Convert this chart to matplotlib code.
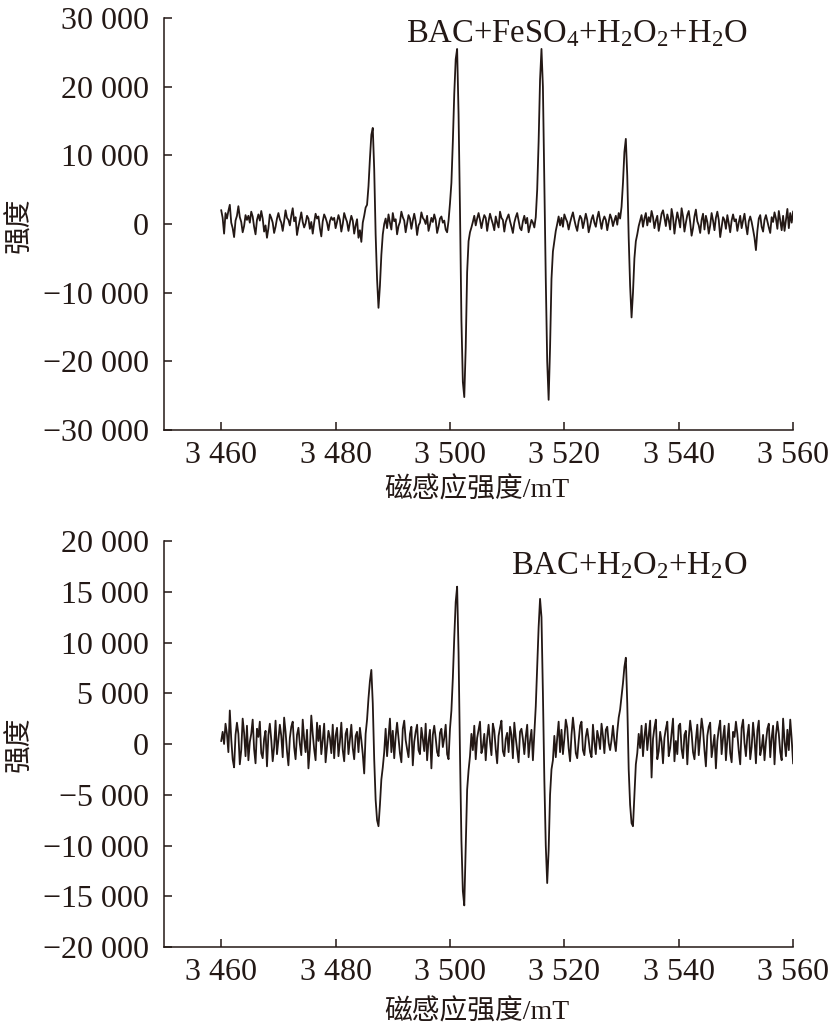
import numpy as np
import matplotlib
matplotlib.use('Agg')
import matplotlib.pyplot as plt
from matplotlib.ticker import FuncFormatter, MultipleLocator

# field sweep 3460-3560 mT, one reading every 0.25 mT
field = np.linspace(3460, 3560, 401)

# intensity, in thousands (BAC+FeSO4+H2O2+H2O)
top_k = [
    2.0, 0.9, -1.4, 1.6, 0.8, 1.9, 2.8, 0.2, -0.6, -1.9, 0.5, 1.2, 2.6, 1.0, 0.3, -1.2, -0.3, 1.3, 0.6, 1.2,
    0.2, 1.8, 1.1, -0.4, -1.5, 0.6, 1.4, 0.5, 1.9, 0.8, -1.1, -0.2, -2.0, -0.6, 1.4, 0.9, 0.2, -1.3, -0.4, 0.8,
    1.6, 0.7, 0.2, -1.0, 0.4, 2.0, 0.9, 0.6, -0.2, 1.2, 2.3, 0.4, 1.0, -1.6, -0.4, 0.6, 1.7, 0.3, -0.5, 0.1,
    1.2, 0.8, -0.7, 0.3, -1.4, 0.2, 1.5, 0.8, 1.1, -0.6, -1.8, 0.4, 1.4, 0.9, 0.2, -0.9, 0.4, 1.0, 0.6, 0.9,
    -0.6, 0.3, 1.3, 0.6, -1.1, 0.0, 1.6, 0.9, 0.3, -1.0, 0.2, 1.2, 0.5, -1.4, -0.2, 0.7, -2.0, -0.9, -2.6, 0.2,
    1.2, 2.4, 2.8, 5.5, 9.5, 13.0, 14.0, 8.0, -1.5, -8.0, -12.2, -9.0, -4.5, -1.5, 0.0, 0.8, -0.6, 1.4, 0.2, -0.8,
    1.6, 0.4, 0.7, -1.5, -0.3, 0.3, 1.8, 1.0, 0.5, -1.2, 0.1, 1.3, 0.8, -0.7, 0.5, 1.5, 0.4, -1.6, -0.2, 0.2,
    1.7, 0.9, 0.6, 0.0, 1.2, -1.0, -0.1, 0.9, 0.3, 1.4, 0.6, -1.3, -0.4, 0.8, 1.1, 0.2, 0.5, -0.8, -1.2, 0.5,
    3.0, 6.0, 12.0, 19.0, 24.0, 25.5, 16.0, 2.0, -14.0, -23.0, -25.2, -18.0, -7.0, -2.5, -1.2, -0.5, 0.3, 1.2, -0.2, 0.8,
    1.6, 0.6, -0.6, 0.5, 1.3, 0.9, -1.0, 0.4, 1.5, 0.7, 0.0, -0.9, 1.1, 0.2, -0.5, 1.8, 0.9, 0.6, -1.1, 0.3,
    0.9, 1.4, 0.4, -0.4, -1.3, 0.2, 1.0, 1.6, 0.5, -0.6, -0.9, 0.4, 1.2, 0.1, 0.9, -1.2, -0.3, 0.6, 0.2, -0.5,
    1.0, 5.0, 12.0, 21.0, 25.5, 20.0, 6.0, -8.0, -20.0, -25.6, -18.0, -8.0, -4.0, -2.5, -1.0, 0.0, 1.1, -0.2, 0.9, -0.4,
    1.4, 0.8, 0.3, -0.8, 0.2, 1.0, 1.7, 0.6, -0.3, -1.0, 0.4, 1.2, 0.8, -0.6, 0.4, 1.5, 0.6, -1.2, -0.3, 0.7,
    1.3, 0.2, -0.4, 0.9, 1.8, 0.5, -0.7, 0.5, 1.1, 0.6, -0.9, 0.3, 1.4, 0.8, -0.3, 0.5, 1.2, -0.1, 1.6, 0.8,
    2.5, 6.0, 10.5, 12.4, 7.0, -2.0, -9.0, -13.6, -10.0, -5.0, -2.5, -1.5, -0.3, 0.5, 1.3, -0.4, 0.8, 1.6, -0.2, 1.0,
    0.3, 1.9, 1.0, -0.6, 0.5, 1.2, -1.0, 0.2, 1.5, 2.0, 0.9, -0.3, 1.4, 0.6, -0.8, 2.2, 1.0, -1.4, 0.4, 1.7,
    0.7, -0.5, 2.3, 1.1, -1.1, 0.2, 1.3, 1.9, 0.3, -1.7, -0.6, 1.1, 2.1, 0.4, -0.2, -1.3, 0.6, 1.5, -0.8, 1.2,
    0.3, -1.4, -0.2, 1.6, 0.5, -0.9, 0.9, 1.8, 0.6, -1.9, -0.5, 1.0, 0.6, -0.7, 1.3, 0.1, -1.2, 0.5, 1.4, 0.4,
    0.7, -1.0, 0.2, 1.2, -0.6, 0.5, 1.5, -0.2, -1.5, 0.4, 1.1, 0.3, -0.8, -2.0, -3.8, -1.0, 0.8, 1.3, -0.4, -1.1,
    0.6, 1.3, 0.4, -0.5, -1.3, 1.0, 0.3, 1.7, 0.8, -0.7, 1.9, 0.5, -0.9, 1.2, -1.0, 0.6, 2.2, -0.6, 1.6, 0.2,
    1.8,
]

# intensity, in thousands (BAC+H2O2+H2O)
bottom_k = [
    0.3, 1.2, 0.0, 2.0, 1.0, -0.8, 3.3, 0.5, -1.5, -2.3, 0.9, 2.1, 1.0, -2.0, -0.6, 2.5, 1.1, -1.2, 1.8, -1.6,
    0.2, 1.0, 2.4, -0.5, -1.9, 1.5, 0.7, 2.2, -0.9, -1.4, 0.5, 1.3, -2.2, 0.9, 2.0, 0.4, -1.7, -0.3, 2.3, -1.0,
    0.4, 1.9, 0.8, -1.3, 2.6, 1.2, -0.7, -2.1, 0.6, 1.7, 2.2, -0.3, -1.5, 0.9, 1.6, 0.0, -1.1, 2.4, 0.5, -0.8,
    1.4, -2.4, -0.5, 2.8, 1.0, -0.5, -1.6, 2.1, 0.3, 1.8, -1.0, 0.4, 2.0, -1.8, -0.2, 1.3, 0.6, -0.9, 1.9, -1.4,
    0.8, 1.6, -1.2, 0.2, 2.1, -0.6, -1.7, 1.0, 1.5, -1.0, 0.4, 1.9, -0.4, -1.5, 0.8, 1.2, -0.8, 1.6, 0.4, -1.0,
    -2.9, 1.0, 2.4, 4.5, 6.2, 7.3, 4.0, -1.5, -5.5, -7.5, -8.1, -6.0, -3.5, -2.3, -0.8, 1.5, -1.2, 0.6, 2.5, -0.8,
    1.3, -1.4, 0.7, 2.1, 0.6, -0.9, -1.8, 1.5, 2.3, 0.4, -0.5, -1.3, 1.0, 1.7, -2.1, 0.2, 1.2, 1.9, -0.6, -1.0,
    1.6, 0.5, -0.7, 2.0, -1.6, 0.3, 1.4, -2.4, 0.9, 1.8, 0.6, -0.8, -1.2, 1.1, 1.5, -0.3, 0.6, 1.9, -1.0, -1.5,
    1.5, 3.3, 6.5, 10.5, 14.0, 15.5, 9.0, -1.0, -9.5, -14.5, -15.9, -10.0, -4.5, -2.6, -1.2, 1.0, -0.6, 1.8, -1.5, 0.6,
    1.4, 2.2, -0.9, -0.3, 1.0, -1.6, 0.6, 1.9, 0.2, -1.1, 2.0, 1.3, -0.5, -1.9, 0.8, 1.6, 2.3, -0.7, -1.2, 0.5,
    1.1, -0.8, 1.7, 0.9, -1.4, 2.1, 0.6, -0.6, -1.8, 1.2, 1.5, 0.5, -1.0, 0.7, 1.9, -1.3, 0.3, 1.4, -1.6, 1.0,
    3.7, 7.5, 11.5, 14.3, 12.5, 5.0, -3.5, -10.0, -13.7, -10.5, -5.0, -2.5, -1.6, 0.8, -1.3, 0.6, 2.2, -0.8, 1.4, -1.0,
    0.5, 2.4, 1.6, -0.4, -1.7, 0.9, 2.6, 1.2, -0.9, -1.4, 0.3, 1.8, 2.2, -0.6, -1.1, 0.7, 1.5, 0.4, -0.8, -1.3,
    1.9, 0.2, -1.0, 1.3, 0.6, -0.5, 2.0, 0.8, -0.9, 1.4, 1.7, 0.1, -0.6, 0.4, 1.8, 0.3, -0.7, 1.2, 2.6, 3.4,
    4.7, 6.0, 7.6, 8.5, 4.0, -2.5, -6.0, -7.8, -8.1, -5.0, -2.0, -0.9, 1.0, -0.4, 1.8, -1.2, 0.7, 2.0, -0.6, 0.8,
    2.3, -3.3, 0.5, 1.6, 2.4, -1.5, -0.7, 1.2, 0.2, -1.9, 0.6, 1.5, 2.2, -1.2, -0.4, 1.0, 2.5, -1.7, 0.3, -1.0,
    1.8, 2.0, -0.5, -1.4, 0.9, 1.3, -2.0, 0.6, 2.3, 1.1, -0.8, -1.5, 0.4, 1.9, -1.1, 0.7, 2.5, 1.4, -0.6, -2.2,
    0.8, 1.7, 2.1, -1.3, -0.2, 0.9, -2.4, 0.3, 1.5, 2.3, -1.0, 0.6, 1.8, -1.6, 0.4, 2.0, -0.9, -1.8, 1.2, 0.7,
    2.2, 1.0, -0.7, -2.0, 1.6, 2.4, 0.1, -1.2, 0.8, 1.9, -1.5, -0.3, 2.1, 0.5, -1.9, 1.3, 2.3, -1.1, -0.4, 0.9,
    -1.6, 0.2, 1.5, 2.0, -1.3, 0.6, 1.8, -2.0, 0.9, 2.2, 1.0, -0.8, -1.6, 2.5, 0.3, -1.2, 1.4, -0.6, 2.4, 0.5,
    -1.9,
]

labels = [r'BAC+FeSO$_4$+H$_2$O$_2$+H$_2$O', r'BAC+H$_2$O$_2$+H$_2$O']
x_ticks = [3460, 3480, 3500, 3520, 3540, 3560]

plt.rcParams['font.family'] = ['Liberation Serif', 'Noto Sans CJK SC']
plt.rcParams['mathtext.fontset'] = 'custom'
plt.rcParams['mathtext.rm'] = 'Liberation Serif'
plt.rcParams['mathtext.it'] = 'Liberation Serif'

INK = '#231815'


def fmt_num(v, pos):
    s = f'{abs(int(round(v))):,}'.replace(',', ' ')
    return ('\u2212' if v < 0 else '') + s


fig = plt.figure(figsize=(8.31, 10.36), dpi=100)

ax1 = fig.add_axes([0.1974, 0.5849, 0.757, 0.3977])
ax2 = fig.add_axes([0.1974, 0.0859, 0.757, 0.3919])

panels = [
    (ax1, np.array(top_k) * 1000, (-30000, 30000), 10000, labels[0], 27700),
    (ax2, np.array(bottom_k) * 1000, (-20000, 20000), 5000, labels[1], 17600),
]

for ax, y, ylim, ystep, lab, ylab_pos in panels:
    ax.plot(field, y, color=INK, lw=1.3)
    ax.set_xlim(3450, 3560)
    ax.set_ylim(*ylim)
    ax.set_xticks(x_ticks)
    ax.yaxis.set_major_locator(MultipleLocator(ystep))
    ax.xaxis.set_major_formatter(FuncFormatter(fmt_num))
    ax.yaxis.set_major_formatter(FuncFormatter(fmt_num))
    for side in ['top', 'right']:
        ax.spines[side].set_visible(False)
    for side in ['left', 'bottom']:
        ax.spines[side].set_linewidth(1.1)
        ax.spines[side].set_color(INK)
    ax.tick_params(axis='both', direction='in', length=6, width=1.1, colors=INK,
                   labelsize=23, labelcolor=INK)
    ax.tick_params(axis='y', pad=11)
    ax.tick_params(axis='x', pad=8)
    ax.text(3552, ylab_pos, lab, ha='right', va='center', fontsize=23.5, color=INK)

fig.text(20 / 831, 1 - 225 / 1036, '强度', rotation=90, ha='center', va='center',
         fontsize=20, color=INK)
fig.text(20 / 831, 1 - 744 / 1036, '强度', rotation=90, ha='center', va='center',
         fontsize=20, color=INK)
fig.text(477 / 831, 1 - 490 / 1036, '磁感应强度/mT', ha='center', va='center',
         fontsize=20, color=INK)
fig.text(477 / 831, 1 - 1012 / 1036, '磁感应强度/mT', ha='center', va='center',
         fontsize=20, color=INK)

fig.savefig('out.png', dpi=100)
